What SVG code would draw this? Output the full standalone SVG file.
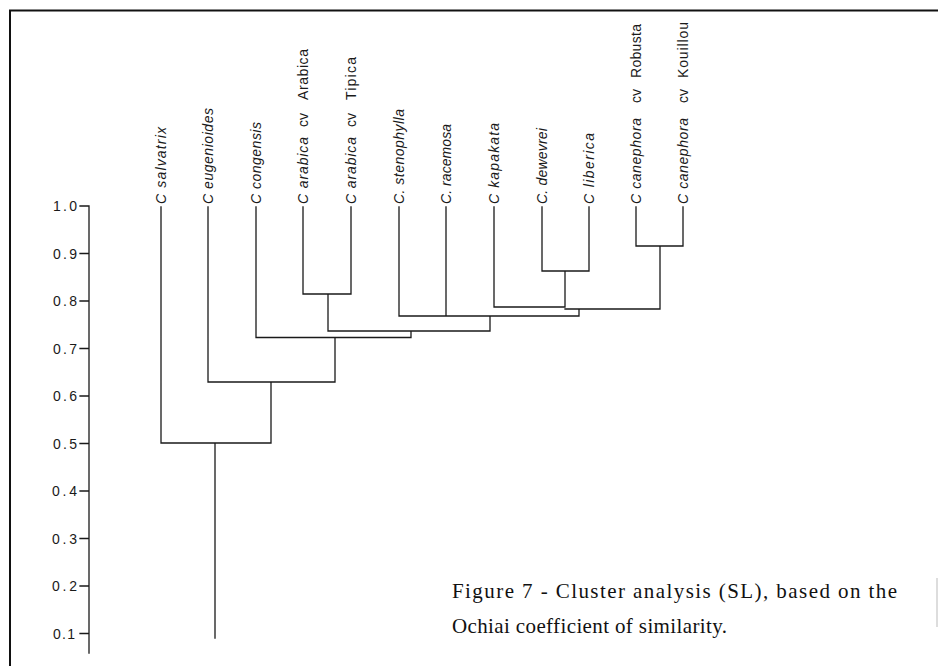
<svg xmlns="http://www.w3.org/2000/svg" width="938" height="666" viewBox="0 0 938 666">
<style>
.lbl{font-family:"Liberation Sans",Arial,sans-serif;font-size:14px;fill:#1a1a1a}
.it{font-style:italic}
.ax{font-family:"Liberation Sans",Arial,sans-serif;font-size:14px;fill:#1a1a1a;text-anchor:end}
.cap{font-family:"Liberation Serif","Times New Roman",serif;font-size:21px;fill:#111}
.ln{fill:none;stroke:#1a1a1a;stroke-width:1.3;stroke-linecap:square}
.frame{fill:none;stroke:#111;stroke-width:2}
</style>
<rect width="938" height="666" fill="#fff"/>
<g id="frame">
<path class="frame" d="M10,666 V10.5 H938"/>
<path d="M937,578 V627" stroke="#bbb" stroke-width="1" fill="none"/>
</g>
<g id="axis">
<path class="ln" d="M89,206 V653 M80,206 H89 M80,253.5 H89 M80,301 H89 M80,348.5 H89 M80,396 H89 M80,443.5 H89 M80,491 H89 M80,538.5 H89 M80,586 H89 M80,633.5 H89"/>
<text class="ax" x="77" y="211" textLength="24" lengthAdjust="spacing">1.0</text>
<text class="ax" x="77" y="258.5" textLength="24" lengthAdjust="spacing">0.9</text>
<text class="ax" x="77" y="306" textLength="24" lengthAdjust="spacing">0.8</text>
<text class="ax" x="77" y="353.5" textLength="24" lengthAdjust="spacing">0.7</text>
<text class="ax" x="77" y="401" textLength="24" lengthAdjust="spacing">0.6</text>
<text class="ax" x="77" y="448.5" textLength="24" lengthAdjust="spacing">0.5</text>
<text class="ax" x="77" y="496" textLength="25" lengthAdjust="spacing">0.4</text>
<text class="ax" x="77" y="543.5" textLength="25" lengthAdjust="spacing">0.3</text>
<text class="ax" x="77" y="591" textLength="25" lengthAdjust="spacing">0.2</text>
<text class="ax" x="75" y="638.5" textLength="22" lengthAdjust="spacing">0.1</text>
</g>
<g id="connectors">
<path class="ln" d="
M161,207 V443 M208,207 V382 M256,207 V337.5 M303,207 V294 M351,207 V294
M399,207 V316 M446,207 V316 M494,207 V307 M542,207 V271 M589,207 V271
M636,207 V246 M683,207 V246
M303,294 H351 M328,294 V331
M542,271 H589 M565,271 V307
M636,246 H683 M660,246 V309
M494,307 H565 M565,309 H660 M579,309 V316
M399,316 H579 M490,316 V331
M328,331 H490 M411,331 V337.5
M256,337.5 H411 M335,337.5 V382
M208,382 H335 M271,382 V443
M161,443 H271 M215,443 V638"/>
</g>
<g id="n-salvatrix" transform="translate(165.5,204) rotate(-90)"><text class="lbl it" textLength="77" lengthAdjust="spacing">C salvatrix</text></g>
<g id="n-eugenioides" transform="translate(212.5,204) rotate(-90)"><text class="lbl it" textLength="96" lengthAdjust="spacing">C eugenioides</text></g>
<g id="n-congensis" transform="translate(260.5,204) rotate(-90)"><text class="lbl it" textLength="82" lengthAdjust="spacing">C congensis</text></g>
<g id="n-arabica-arabica" transform="translate(307.5,204) rotate(-90)">
<text class="lbl it" textLength="67" lengthAdjust="spacing">C arabica</text>
<text class="lbl" x="77">cv</text>
<text class="lbl" x="104" textLength="51" lengthAdjust="spacing">Arabica</text>
</g>
<g id="n-arabica-tipica" transform="translate(355.5,204) rotate(-90)">
<text class="lbl it" textLength="67" lengthAdjust="spacing">C arabica</text>
<text class="lbl" x="77">cv</text>
<text class="lbl" x="104" textLength="43" lengthAdjust="spacing">Tipica</text>
</g>
<g id="n-stenophylla" transform="translate(403.5,204) rotate(-90)"><text class="lbl it" textLength="95" lengthAdjust="spacing">C. stenophylla</text></g>
<g id="n-racemosa" transform="translate(450.5,204) rotate(-90)"><text class="lbl it" textLength="80" lengthAdjust="spacing">C. racemosa</text></g>
<g id="n-kapakata" transform="translate(498.5,204) rotate(-90)"><text class="lbl it" textLength="81" lengthAdjust="spacing">C kapakata</text></g>
<g id="n-dewevrei" transform="translate(546.5,204) rotate(-90)"><text class="lbl it" textLength="76" lengthAdjust="spacing">C. dewevrei</text></g>
<g id="n-liberica" transform="translate(593.5,204) rotate(-90)"><text class="lbl it" textLength="71" lengthAdjust="spacing">C liberica</text></g>
<g id="n-canephora-robusta" transform="translate(640.5,204) rotate(-90)">
<text class="lbl it" textLength="86" lengthAdjust="spacing">C canephora</text>
<text class="lbl" x="101">cv</text>
<text class="lbl" x="126" textLength="54" lengthAdjust="spacing">Robusta</text>
</g>
<g id="n-canephora-kouillou" transform="translate(687.5,204) rotate(-90)">
<text class="lbl it" textLength="86" lengthAdjust="spacing">C canephora</text>
<text class="lbl" x="101">cv</text>
<text class="lbl" x="126" textLength="56" lengthAdjust="spacing">Kouillou</text>
</g>
<g id="caption">
<text class="cap" x="452" y="598" textLength="445" lengthAdjust="spacing">Figure 7 - Cluster analysis (SL), based on the</text>
<text class="cap" x="452" y="633" textLength="275" lengthAdjust="spacing">Ochiai coefficient of similarity.</text>
</g>
</svg>
